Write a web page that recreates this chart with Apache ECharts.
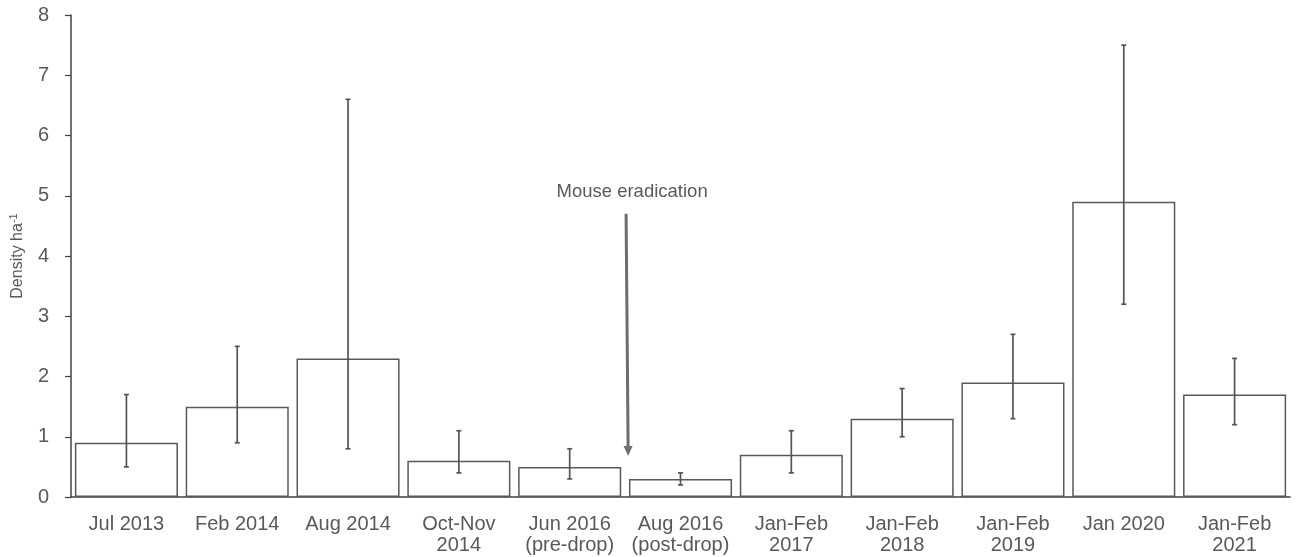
<!DOCTYPE html>
<html>
<head>
<meta charset="utf-8">
<script src="https://cdn.jsdelivr.net/npm/echarts@6/dist/echarts.min.js"></script>
<style>
  html, body { margin: 0; padding: 0; background: #fff; }
  #chart { width: 1296px; height: 557px; }
</style>
</head>
<body>
<div id="chart"></div>
<script>
// Survey periods
const categories = ['Jul 2013', 'Feb 2014', 'Aug 2014', 'Oct-Nov\n2014', 'Jun 2016\n(pre-drop)',
  'Aug 2016\n(post-drop)', 'Jan-Feb\n2017', 'Jan-Feb\n2018', 'Jan-Feb\n2019', 'Jan 2020', 'Jan-Feb\n2021'];
// Mean density (per ha)
const density = [0.9, 1.5, 2.3, 0.6, 0.5, 0.3, 0.7, 1.3, 1.9, 4.9, 1.7];
// Confidence interval bounds
const lower = [0.5, 0.9, 0.8, 0.4, 0.3, 0.2, 0.4, 1.0, 1.3, 3.2, 1.2];
const upper = [1.7, 2.5, 6.6, 1.1, 0.8, 0.4, 1.1, 1.8, 2.7, 7.5, 2.3];
// Y axis ticks
const yTicks = [0, 1, 2, 3, 4, 5, 6, 7, 8];
// Eradication annotation: between Jun 2016 and Aug 2016, arrow from/to density values
const eradication = { label: 'Mouse eradication', afterIndex: 4, fromY: 4.7, toY: 0.68 };

const errData = categories.map((c, i) => [i, lower[i], upper[i]]);
const grey = '#595959';

const chart = echarts.init(document.getElementById('chart'));
chart.setOption({
  animation: false,
  grid: { left: 71, right: 6, top: 15, bottom: 60 },
  xAxis: {
    type: 'category',
    data: categories,
    axisLine: { lineStyle: { color: '#404040', width: 1.5 } },
    axisTick: { show: false },
    axisLabel: {
      color: grey, fontFamily: 'Liberation Sans', fontSize: 20,
      lineHeight: 21, margin: 17, interval: 0
    }
  },
  yAxis: {
    type: 'value',
    min: yTicks[0], max: yTicks[yTicks.length - 1], interval: 1,
    name: '{a|Density ha}{s|-1}',
    nameLocation: 'middle',
    nameGap: 44,
    nameTextStyle: {
      rich: {
        a: { color: grey, fontFamily: 'Liberation Sans', fontSize: 16 },
        s: { color: grey, fontFamily: 'Liberation Sans', fontSize: 11, verticalAlign: 'top', padding: [0, 0, 8, 0] }
      }
    },
    axisLine: { show: true, lineStyle: { color: '#404040', width: 1.5 } },
    axisTick: { show: true, length: 6, lineStyle: { color: '#404040', width: 1.2 } },
    splitLine: { show: false },
    axisLabel: { color: grey, fontFamily: 'Liberation Sans', fontSize: 20, margin: 22 }
  },
  series: [
    {
      type: 'bar',
      data: density,
      barCategoryGap: '7%',
      itemStyle: { color: '#ffffff', borderColor: grey, borderWidth: 1.5 }
    },
    {
      type: 'custom',
      data: errData,
      z: 5,
      renderItem: function (params, api) {
        const x = api.value(0);
        const lo = api.coord([x, api.value(1)]);
        const hi = api.coord([x, api.value(2)]);
        const cap = 2.5;
        const style = { stroke: '#555555', lineWidth: 1.7 };
        return {
          type: 'group',
          children: [
            { type: 'line', shape: { x1: lo[0], y1: lo[1], x2: hi[0], y2: hi[1] }, style },
            { type: 'line', shape: { x1: lo[0] - cap, y1: lo[1], x2: lo[0] + cap, y2: lo[1] }, style },
            { type: 'line', shape: { x1: hi[0] - cap, y1: hi[1], x2: hi[0] + cap, y2: hi[1] }, style }
          ]
        };
      }
    }
  ]
});

// Annotation arrow placed from the axis scales
const pA = chart.convertToPixel({ gridIndex: 0 }, [eradication.afterIndex, eradication.fromY]);
const pB = chart.convertToPixel({ gridIndex: 0 }, [eradication.afterIndex + 1, eradication.toY]);
const ax = (pA[0] + pB[0]) / 2 + 1;
const ay1 = pA[1];
const ay2 = pB[1];
const head = 10;
chart.setOption({
  graphic: [
    {
      type: 'line',
      shape: { x1: ax, y1: ay1, x2: ax + 2, y2: ay2 - head },
      style: { stroke: '#6e6e6e', lineWidth: 3 }
    },
    {
      type: 'polygon',
      shape: { points: [[ax + 2 - 4.5, ay2 - head], [ax + 2 + 4.5, ay2 - head], [ax + 2, ay2]] },
      style: { fill: '#6e6e6e' }
    },
    {
      type: 'text',
      x: ax + 6, y: ay1 - 22,
      style: {
        text: eradication.label, fill: grey, font: '18.5px "Liberation Sans"',
        align: 'center', verticalAlign: 'middle'
      }
    }
  ]
});
</script>
</body>
</html>
